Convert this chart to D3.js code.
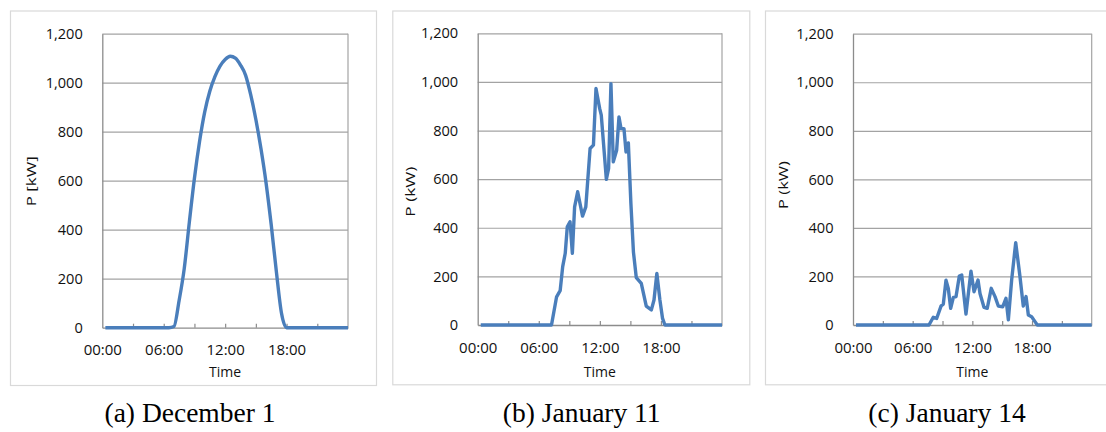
<!DOCTYPE html>
<html>
<head>
<meta charset="utf-8">
<script src="https://cdn.jsdelivr.net/npm/d3@7"></script>
<style>
  html, body { margin: 0; padding: 0; background: #ffffff; }
  svg { display: block; }
</style>
</head>
<body>
<svg id="chart" width="1106" height="432"></svg>
<script>
// ---- Data ----
const yTicks = [0, 200, 400, 600, 800, 1000, 1200];
const xLabelHours = [0, 6, 12, 18];
const xTickHours = [3, 6, 9, 12, 15, 18, 21];

const captions = ["(a) December 1", "(b) January 11", "(c) January 14"];
const yTitles = ["P [kW]", "P (kW)", "P (kW)"];
const xTitle = "Time";

// (a) December 1 — hours and power [kW]
const hoursA = [0.3, 1, 2, 3, 4, 5, 6, 6.5, 7, 7.5, 8, 8.5, 9, 9.5, 10, 10.5, 11, 11.5, 12, 12.5,
                13, 13.5, 14, 14.5, 15, 15.5, 16, 16.5, 17, 17.5, 18, 19, 20, 21, 22, 23, 24];
const powerA = [0, 0, 0, 0, 0, 0, 0, 0, 5, 110, 240, 430, 610, 760, 880, 965, 1025, 1068, 1095, 1108,
                1100, 1072, 1030, 950, 850, 730, 590, 420, 230, 60, 0, 0, 0, 0, 0, 0, 0];

// (b) January 11
const hoursB = [0.3, 7.25, 7.75, 8.1, 8.35, 8.6, 8.8, 9.07, 9.3, 9.52, 9.82, 10.3, 10.62, 11.04, 11.37,
                11.62, 11.98, 12.14, 12.64, 12.86, 13.09, 13.32, 13.65, 13.88, 14.08, 14.37, 14.57, 14.8,
                15.05, 15.3, 15.58, 16.07, 16.56, 17.06, 17.32, 17.6, 17.9, 18.16, 18.39, 24];
const powerB = [0, 0, 116, 141, 240, 295, 404, 425, 295, 486, 548, 448, 486, 726, 740,
                973, 891, 863, 599, 644, 993, 671, 719, 856, 808, 808, 712, 749,
                500, 300, 195, 171, 78, 62, 103, 212, 103, 27, 0, 0];

// (c) January 14
const hoursC = [0.3, 7.64, 8.07, 8.41, 8.85, 9.08, 9.35, 9.58, 9.82, 10.09, 10.36, 10.69, 10.93, 11.36,
                11.86, 12.17, 12.57, 12.77, 13.17, 13.5, 13.9, 14.28, 14.61, 15.05, 15.38, 15.62, 15.95,
                16.36, 16.79, 17.12, 17.4, 17.63, 17.96, 18.3, 18.53, 24];
const powerC = [0, 0, 32, 27, 78, 86, 185, 151, 69, 114, 117, 202, 206, 45,
                222, 137, 185, 130, 73, 69, 151, 117, 78, 75, 110, 21, 185,
                339, 199, 78, 117, 41, 34, 14, 0, 0];

// ---- Layout ----
const panels = [
  { frame: [10, 10.5, 376, 385], plot: [102.3, 33.7, 348, 327.7], titleX: 31.7, titleY: 181.2, capX: 190,
    hours: hoursA, power: powerA, curve: d3.curveMonotoneX },
  { frame: [392.3, 10.5, 749.3, 384.3], plot: [477.7, 33.3, 722, 325], titleX: 410.7, titleY: 191.7, capX: 581.7,
    hours: hoursB, power: powerB, curve: d3.curveLinear },
  { frame: [765, 10.5, 1112, 384.3], plot: [853, 33.7, 1091.7, 325], titleX: 783.3, titleY: 185, capX: 947,
    hours: hoursC, power: powerC, curve: d3.curveLinear }
];

const svg = d3.select("#chart");
const lineColor = "#4a7ebb";
const gridColor = "#a3a3a3";
const axisColor = "#8c8c8c";
const sansFont = "'Open Sans', 'DejaVu Sans', sans-serif";

const pad2 = n => (n < 10 ? "0" : "") + n;

panels.forEach((p, i) => {
  const [fx0, fy0, fx1, fy1] = p.frame;
  const [px0, py0, px1, py1] = p.plot;
  const g = svg.append("g");

  // outer frame
  g.append("rect")
    .attr("x", fx0 + 0.5).attr("y", fy0 + 0.5)
    .attr("width", fx1 - fx0).attr("height", fy1 - fy0)
    .attr("fill", "#ffffff").attr("stroke", "#d9d9d9").attr("stroke-width", 1.2);

  const x = d3.scaleLinear().domain([0, 24]).range([px0, px1]);
  const y = d3.scaleLinear().domain([0, 1200]).range([py1, py0]);

  // gridlines
  g.append("g")
    .attr("transform", `translate(${px0},0)`)
    .call(d3.axisLeft(y).tickValues(yTicks.slice(1)).tickSize(-(px1 - px0)).tickFormat(""))
    .call(a => a.select(".domain").remove())
    .call(a => a.selectAll("line").attr("stroke", gridColor).attr("stroke-width", 1.2));

  // right border of plot area
  g.append("line")
    .attr("x1", px1).attr("x2", px1).attr("y1", py0).attr("y2", py1)
    .attr("stroke", gridColor).attr("stroke-width", 1.2);

  // y axis with labels
  g.append("g")
    .attr("transform", `translate(${px0},0)`)
    .call(d3.axisLeft(y).tickValues(yTicks).tickSize(0).tickPadding(19.5).tickFormat(d3.format(",")))
    .call(a => a.select(".domain").attr("stroke", axisColor).attr("stroke-width", 1.3))
    .call(a => a.selectAll("text").attr("font-family", sansFont).attr("font-size", 14.6).attr("fill", "#111"));

  // x axis: tick marks (inside) every 3 h
  g.append("g")
    .attr("transform", `translate(0,${py1})`)
    .call(d3.axisBottom(x).tickValues(xTickHours).tickSizeInner(-4).tickSizeOuter(0).tickFormat(""))
    .call(a => a.select(".domain").attr("stroke", axisColor).attr("stroke-width", 1.3))
    .call(a => a.selectAll("line").attr("stroke", axisColor).attr("stroke-width", 1.2));

  // x labels
  g.append("g")
    .attr("transform", `translate(0,${py1})`)
    .call(d3.axisBottom(x).tickValues(xLabelHours).tickSize(0).tickPadding(17).tickFormat(h => pad2(h) + ":00"))
    .call(a => a.select(".domain").remove())
    .call(a => a.selectAll("text").attr("font-family", sansFont).attr("font-size", 15).attr("fill", "#111"));

  // x title
  g.append("text")
    .attr("x", (px0 + px1) / 2).attr("y", 376.5)
    .attr("text-anchor", "middle")
    .attr("font-family", sansFont).attr("font-size", 14).attr("fill", "#111")
    .text(xTitle);

  // y title (rotated)
  g.append("text")
    .attr("transform", `translate(${p.titleX + 4.5},${p.titleY}) rotate(-90)`)
    .attr("text-anchor", "middle")
    .attr("font-family", sansFont).attr("font-size", 12).attr("fill", "#111")
    .attr("textLength", i === 2 ? 48 : 50).attr("lengthAdjust", "spacingAndGlyphs")
    .text(yTitles[i]);

  // data line
  const data = p.hours.map((h, k) => ({ h, v: p.power[k] }));
  g.append("path")
    .datum(data)
    .attr("fill", "none")
    .attr("stroke", lineColor)
    .attr("stroke-width", 3.4)
    .attr("stroke-linejoin", "round")
    .attr("d", d3.line().x(d => x(d.h)).y(d => y(d.v)).curve(p.curve));

  // caption
  svg.append("text")
    .attr("x", p.capX).attr("y", 422)
    .attr("text-anchor", "middle")
    .attr("font-family", "'Liberation Serif', 'Times New Roman', serif")
    .attr("font-size", 27.5).attr("fill", "#000")
    .text(captions[i]);
});
</script>
</body>
</html>
